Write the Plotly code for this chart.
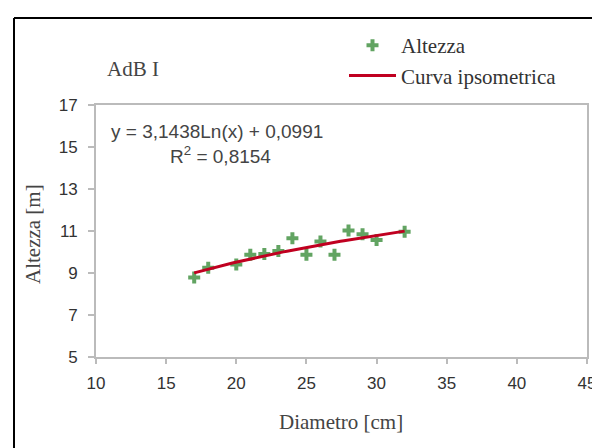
import plotly.graph_objects as go
import numpy as np

# Data
diametro = [17, 18, 20, 21, 22, 23, 24, 25, 26, 27, 28, 29, 30, 32]
altezza = [8.78, 9.25, 9.4, 9.87, 9.9, 10.05, 10.66, 9.87, 10.5, 9.87, 11.02, 10.85, 10.57, 10.96]

# Curve coefficients shown on the chart: y = a*Ln(x) + b
coef_a = 3.1438
coef_b = 0.0991
curve_x = np.linspace(min(diametro), max(diametro), 60)
curve_y = coef_a * np.log(curve_x) + coef_b

x_ticks = [10, 15, 20, 25, 30, 35, 40, 45]
y_ticks = [5, 7, 9, 11, 13, 15, 17]

serif = "Liberation Serif, Times New Roman, serif"
sans = "Liberation Sans, Arial, sans-serif"

fig = go.Figure()
fig.add_trace(go.Scatter(
    x=diametro, y=altezza, mode="markers", name="Altezza",
    marker=dict(symbol="cross", size=10, color="#62A462", line=dict(width=0)),
))
fig.add_trace(go.Scatter(
    x=curve_x, y=curve_y, mode="lines", name="Curva ipsometrica",
    line=dict(color="#C00020", width=3),
))

L, R, T, B = 88, 21, 97, 99
W, H = 600, 448
pw, ph = W - L - R, H - T - B

def px(xp):
    return (xp - L) / pw

def py(yp):
    return (H - B - yp) / ph

fig.update_layout(
    width=W, height=H,
    margin=dict(l=L, r=R, t=T, b=B),
    paper_bgcolor="white", plot_bgcolor="white",
    showlegend=True,
    legend=dict(
        x=px(336), y=py(17), xanchor="left", yanchor="top",
        font=dict(family=serif, size=21, color="#333333"),
        bgcolor="rgba(0,0,0,0)", borderwidth=0, itemwidth=47,
        tracegroupgap=0,
    ),
    xaxis=dict(
        range=[10, 45], tickvals=x_ticks, showgrid=False, zeroline=False,
        showline=True, linecolor="#BBBBBB", linewidth=2, mirror=True,
        ticks="outside", ticklen=5, tickcolor="#BBBBBB", tickwidth=2,
        ticklabelstandoff=5,
        tickfont=dict(family=sans, size=17, color="#333333"),
    ),
    yaxis=dict(
        range=[5, 17], tickvals=y_ticks, showgrid=False, zeroline=False,
        showline=True, linecolor="#BBBBBB", linewidth=2, mirror=True,
        ticks="outside", ticklen=6, tickcolor="#BBBBBB", tickwidth=2,
        ticklabelstandoff=7,
        tickfont=dict(family=sans, size=17, color="#333333"),
    ),
    annotations=[
        dict(text="Diametro [cm]", x=px(333), y=py(414), xref="paper", yref="paper",
             showarrow=False, xanchor="center", yanchor="middle",
             font=dict(family=serif, size=21, color="#444444")),
        dict(text="Altezza [m]", x=px(25), y=py(226), xref="paper", yref="paper",
             showarrow=False, xanchor="center", yanchor="middle", textangle=-90,
             font=dict(family=serif, size=21, color="#444444")),
        dict(text="AdB I", x=px(97), y=py(61), xref="paper", yref="paper",
             showarrow=False, xanchor="left", yanchor="middle",
             font=dict(family=serif, size=21, color="#444444")),
        dict(text="y = 3,1438Ln(x) + 0,0991", x=px(209), y=py(123), xref="paper", yref="paper",
             showarrow=False, xanchor="center", yanchor="middle",
             font=dict(family=sans, size=19, color="#444444")),
        dict(text="R<sup>2</sup> = 0,8154", x=px(212), y=py(147), xref="paper", yref="paper",
             showarrow=False, xanchor="center", yanchor="middle",
             font=dict(family=sans, size=19, color="#444444")),
    ],
    shapes=[
        dict(type="line", xref="paper", yref="paper", x0=px(6), x1=px(605), y0=py(10), y1=py(10),
             line=dict(color="black", width=2)),
        dict(type="line", xref="paper", yref="paper", x0=px(6), x1=px(6), y0=py(10), y1=py(455),
             line=dict(color="black", width=2)),
    ],
)

fig.write_html("out.html")
